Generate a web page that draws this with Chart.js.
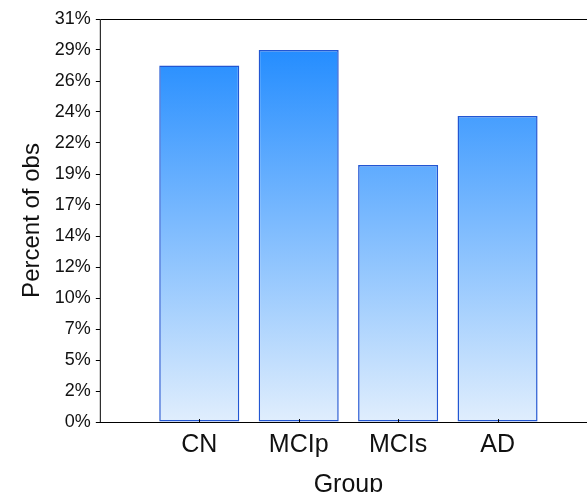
<!DOCTYPE html>
<html>
<head>
<meta charset="utf-8">
<script src="https://cdn.jsdelivr.net/npm/chart.js@4"></script>
<style>
  html, body { margin: 0; padding: 0; overflow: hidden; background: #fff; }
  #wrap { width: 600px; height: 498px; }
</style>
</head>
<body>
<div id="wrap"><canvas id="myChart"></canvas></div>
<script>
// blank slots at both ends, like the original plot
let groups = ['', 'CN', 'MCIp', 'MCIs', 'AD', ''];
let percents = [null, 27.6, 28.8, 19.9, 23.7, null];
let yTicks = ['0%', '2%', '5%', '7%', '10%', '12%', '14%', '17%', '19%', '22%', '24%', '26%', '29%', '31%'];

let boxAndTicks = {
    id: 'boxAndTicks',
    afterDatasetsDraw(chart) {
        let ctx = chart.ctx, a = chart.chartArea, x = chart.scales.x;
        ctx.save();
        ctx.strokeStyle = '#000';
        ctx.lineWidth = 1;
        ctx.beginPath();
        ctx.moveTo(a.left + 0.5, a.bottom);
        ctx.lineTo(a.left + 0.5, a.top + 0.5);
        ctx.lineTo(a.right, a.top + 0.5);
        ctx.moveTo(a.left, a.bottom + 0.5);
        ctx.lineTo(a.right, a.bottom + 0.5);
        // small inner ticks on the x axis
        for (let i = 1; i < groups.length - 1; i++) {
            let px = Math.round(x.getPixelForTick(i)) + 0.5;
            ctx.moveTo(px, a.bottom);
            ctx.lineTo(px, a.bottom - 3);
        }
        ctx.stroke();
        ctx.restore();
    }
};

let ctx = document.getElementById('myChart').getContext('2d');

let chart = new Chart(ctx, {
    type: 'bar',
    data: {
        labels: groups,
        datasets: [{
            data: percents,
            backgroundColor: function(c) {
                let a = c.chart.chartArea;
                if (!a) return '#5aa8ff';
                let g = c.chart.ctx.createLinearGradient(0, a.top, 0, a.bottom);
                g.addColorStop(0, '#1585ff');
                g.addColorStop(1, '#e0eefd');
                return g;
            },
            borderColor: '#2256d2',
            borderWidth: 1.5,
            borderSkipped: false,
            categoryPercentage: 1,
            barPercentage: 0.805
        }]
    },
    options: {
        responsive: true,
        maintainAspectRatio: false,
        animation: false,
        layout: { padding: { top: 19, right: 3, left: 18, bottom: 0 } },
        plugins: {
            legend: { display: false },
            tooltip: { enabled: false }
        },
        scales: {
            x: {
                offset: false,
                grid: { display: false },
                border: { display: false },
                ticks: {
                    color: '#111',
                    font: { family: 'Liberation Sans', size: 25 },
                    padding: 0,
                    maxRotation: 0,
                    autoSkip: false
                },
                title: {
                    display: true,
                    text: 'Group',
                    color: '#111',
                    font: { family: 'Liberation Sans', size: 25, lineHeight: 1 },
                    padding: { top: 13, bottom: 0 }
                }
            },
            y: {
                min: 0,
                max: 31.2,
                grid: { drawOnChartArea: false, tickLength: 4, color: '#000' },
                border: { display: false },
                ticks: {
                    stepSize: 2.4,
                    color: '#111',
                    font: { family: 'Liberation Sans', size: 18 },
                    padding: 5,
                    callback: (v, i) => yTicks[i]
                },
                title: {
                    display: true,
                    text: 'Percent of obs',
                    color: '#111',
                    font: { family: 'Liberation Sans', size: 24 },
                    padding: { top: 0, bottom: 3 }
                }
            }
        }
    },
    plugins: [boxAndTicks]
});
</script>
</body>
</html>
